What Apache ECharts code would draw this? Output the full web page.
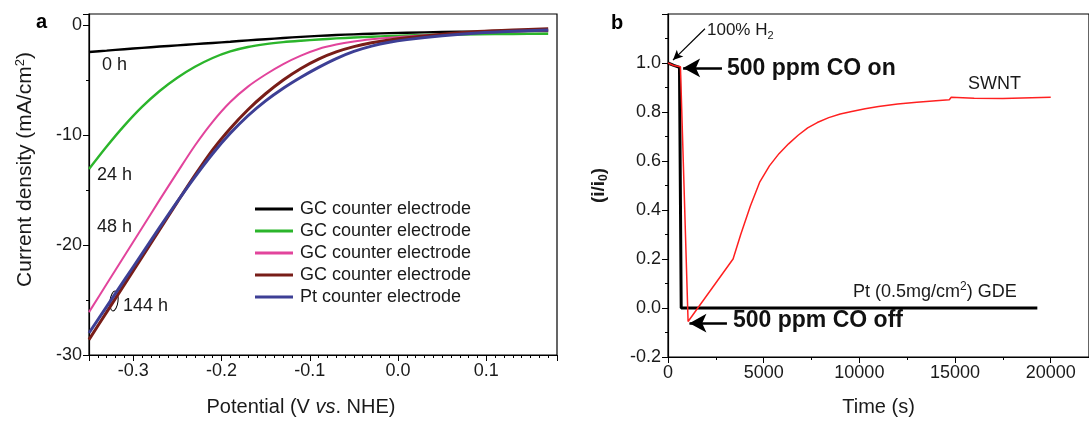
<!DOCTYPE html>
<html>
<head>
<meta charset="utf-8">
<title>CO tolerance</title>
<script src="https://cdn.jsdelivr.net/npm/echarts@6/dist/echarts.min.js"></script>
<style>
  html, body { margin: 0; padding: 0; background: #fff; }
  #main { width: 1089px; height: 422px; }
</style>
</head>
<body>
<div id="main"></div>
<script>
// panel a: polarisation curves
var potential = [-0.35, -0.33, -0.31, -0.29, -0.27, -0.25, -0.23, -0.21, -0.19, -0.17, -0.15, -0.13,
                 -0.11, -0.09, -0.07, -0.05, -0.03, -0.01, 0.01, 0.05, 0.09, 0.13, 0.17];
var gc0h   = [-2.45, -2.33, -2.2, -2.08, -1.96, -1.85, -1.74, -1.63, -1.52, -1.4, -1.29, -1.18,
              -1.08, -0.99, -0.91, -0.85, -0.79, -0.74, -0.7, -0.64, -0.6, -0.57, -0.55];
var gc24h  = [-13.1, -11.05, -9.15, -7.45, -6.0, -4.8, -3.8, -3.0, -2.4, -2.0, -1.74, -1.56,
              -1.43, -1.32, -1.22, -1.14, -1.07, -1.0, -0.95, -0.88, -0.84, -0.82, -0.8];
var gc48h  = [-26.1, -23.55, -21.0, -18.45, -15.9, -13.4, -10.95, -8.8, -7.0, -5.6, -4.5, -3.55,
              -2.78, -2.18, -1.78, -1.5, -1.3, -1.15, -1.04, -0.85, -0.7, -0.58, -0.5];
var gc144h = [-28.6, -26.1, -23.6, -21.1, -18.6, -16.1, -13.65, -11.35, -9.4, -7.7, -6.25, -5.0,
              -3.95, -3.1, -2.45, -1.97, -1.62, -1.36, -1.16, -0.85, -0.6, -0.45, -0.35];
var pt144h = [-28.0, -25.6, -23.2, -20.8, -18.4, -16.05, -13.8, -11.7, -9.85, -8.25, -6.9, -5.75,
              -4.75, -3.85, -3.05, -2.4, -1.92, -1.57, -1.33, -0.98, -0.72, -0.56, -0.46];
var seriesNames  = ['GC 0 h', 'GC 24 h', 'GC 48 h', 'GC 144 h', 'Pt 144 h'];
var legendLabels = ['GC counter electrode', 'GC counter electrode', 'GC counter electrode',
                    'GC counter electrode', 'Pt counter electrode'];
var colorsA = ['#000000', '#2bb52b', '#e2449c', '#781d18', '#3d3f95'];

// panel b: CO poisoning
var timePt  = [0, 300, 600, 680, 690, 3000, 10000, 19300];
var ptRatio = [1.0, 0.99, 0.982, 0.98, 0.0, 0.0, 0.0, 0.0];
var timeSwnt  = [0, 300, 650, 720, 1050, 3400, 3800, 4300, 4800, 5300, 5800, 6300, 6800, 7300,
                 7800, 8400, 9000, 9600, 10300, 11000, 12000, 13000, 14000, 14700, 14800,
                 16000, 17500, 19000, 20000];
var swntRatio = [1.0, 0.99, 0.985, 0.98, -0.055, 0.2, 0.3, 0.415, 0.515, 0.58, 0.63, 0.67, 0.705, 0.735,
                 0.757, 0.777, 0.792, 0.802, 0.813, 0.822, 0.833, 0.84, 0.846, 0.85, 0.86,
                 0.856, 0.855, 0.858, 0.86];

var FONT = '"Liberation Sans", Arial, sans-serif';
var TXT = '#1a1a1a';

function zip(xs, ys) {
  var out = [];
  for (var i = 0; i < xs.length; i++) out.push([xs[i], ys[i]]);
  return out;
}

var myChart = echarts.init(document.getElementById('main'));

var axisCommon = {
  axisLine: { show: true, onZero: false, lineStyle: { color: '#000', width: 1.2 } },
  axisTick: { show: true, inside: false, length: 6, lineStyle: { color: '#000', width: 1 } },
  minorTick: { show: true, length: 3, lineStyle: { color: '#000', width: 1 } },
  splitLine: { show: false },
  axisLabel: { color: TXT, fontSize: 18, fontFamily: FONT, margin: 7 },
  nameTextStyle: { color: TXT, fontSize: 20, fontFamily: FONT }
};
function ax(extra) {
  var o = JSON.parse(JSON.stringify(axisCommon));
  for (var k in extra) {
    if (typeof extra[k] === 'object' && o[k] && !Array.isArray(extra[k])) {
      for (var j in extra[k]) o[k][j] = extra[k][j];
    } else {
      o[k] = extra[k];
    }
  }
  return o;
}

var dataA = [gc0h, gc24h, gc48h, gc144h, pt144h];
var widthsA = [2.4, 2.4, 2, 3, 3];
var series = [];
for (var s = 0; s < dataA.length; s++) {
  series.push({
    name: seriesNames[s],
    type: 'line',
    xAxisIndex: 0, yAxisIndex: 0,
    data: zip(potential, dataA[s]),
    showSymbol: false,
    smooth: 0.3,
    z: s === 4 ? 3 : 2,
    lineStyle: { color: colorsA[s], width: widthsA[s] },
    itemStyle: { color: colorsA[s] }
  });
}
series.push({
  name: 'SWNT',
  type: 'line',
  xAxisIndex: 1, yAxisIndex: 1,
  data: zip(timeSwnt, swntRatio),
  showSymbol: false,
  z: 3,
  lineStyle: { color: '#ff2020', width: 1.5 }
});
series.push({
  name: 'Pt GDE',
  type: 'line',
  xAxisIndex: 1, yAxisIndex: 1,
  data: zip(timePt, ptRatio),
  showSymbol: false,
  z: 2,
  lineStyle: { color: '#000', width: 3 },
  markLine: {
    silent: true,
    animation: false,
    label: { show: false },
    lineStyle: { color: '#000', width: 2.5, type: 'solid' },
    data: [
      [{ coord: [1930, 1.14], symbol: 'none' },
       { coord: [260, 1.012], symbol: 'arrow', symbolSize: [7, 10], lineStyle: { width: 1.2 } }],
      [{ coord: [2820, 0.98], symbol: 'none' },
       { coord: [790, 0.98], symbol: 'arrow', symbolSize: [14, 17] }],
      [{ coord: [3080, -0.062], symbol: 'none' },
       { coord: [1120, -0.062], symbol: 'arrow', symbolSize: [14, 17] }]
    ]
  }
});

var option = {
  animation: false,
  backgroundColor: '#fff',
  textStyle: { fontFamily: FONT },
  grid: [
    { left: 89, top: 14, right: 532, bottom: 62, show: true, borderColor: '#000', borderWidth: 1.2, backgroundColor: 'transparent' },
    { left: 668, top: 14, right: -4, bottom: 62, show: true, borderColor: '#000', borderWidth: 1.2, backgroundColor: 'transparent' }
  ],
  legend: {
    data: seriesNames,
    formatter: function (name) { return legendLabels[seriesNames.indexOf(name)]; },
    orient: 'vertical',
    left: 250, top: 195,
    icon: 'rect',
    itemWidth: 38, itemHeight: 3,
    itemGap: 4,
    selectedMode: false,
    textStyle: { color: TXT, fontSize: 18, fontFamily: FONT, padding: [0, 0, 0, 2] }
  },
  xAxis: [
    ax({
      gridIndex: 0, type: 'value', min: -0.35, max: 0.18, splitNumber: 5,
      minorTick: { show: true, splitNumber: 10 },
      axisLabel: { showMinLabel: false, showMaxLabel: false, formatter: function (v) { return v.toFixed(1); } },
      name: '{n|Potential (V }{i|vs}{n|. NHE)}', nameLocation: 'middle', nameGap: 42,
      nameTextStyle: { padding: [0, 44, 0, 0],
                       rich: { n: { fontSize: 20, fontFamily: FONT, color: TXT },
                               i: { fontSize: 20, fontFamily: FONT, fontStyle: 'italic', color: TXT } } }
    }),
    ax({
      gridIndex: 1, type: 'value', min: 0, max: 22000, interval: 5000,
      minorTick: { show: true, splitNumber: 2 },
      axisLabel: { showMaxLabel: false, formatter: function (v) { return String(v); } },
      name: 'Time (s)', nameLocation: 'middle', nameGap: 40
    })
  ],
  yAxis: [
    ax({
      gridIndex: 0, type: 'value', min: -30, max: 1, interval: 10,
      minorTick: { show: true, splitNumber: 2 },
      axisLabel: { showMaxLabel: false },
      name: '{n|Current density (mA/cm}{s|2}{n|)}', nameLocation: 'middle', nameGap: 52, nameRotate: 90,
      nameTextStyle: { padding: [0, 0, 0, 30],
                       rich: { n: { fontSize: 21, fontFamily: FONT, color: TXT },
                               s: { fontSize: 13, fontFamily: FONT, color: TXT, padding: [0, 0, 10, 0] } } }
    }),
    ax({
      gridIndex: 1, type: 'value', min: -0.2, max: 1.2, interval: 0.2,
      minorTick: { show: true, splitNumber: 2 },
      axisLabel: { showMaxLabel: false, formatter: function (v) { return v.toFixed(1); } },
      name: '{n|(i/i}{s|0}{n|)}', nameLocation: 'middle', nameGap: 58, nameRotate: 90,
      nameTextStyle: { rich: { n: { fontSize: 19, fontWeight: 'bold', fontFamily: FONT, color: TXT },
                               s: { fontSize: 12, fontWeight: 'bold', fontFamily: FONT, color: TXT, padding: [10, 0, 0, 0] } } }
    })
  ],
  series: series,
  graphic: [
    { type: 'text', left: 36, top: 12, style: { text: 'a', font: 'bold 20px ' + FONT, fill: '#000' } },
    { type: 'text', left: 611, top: 13, style: { text: 'b', font: 'bold 20px ' + FONT, fill: '#000' } },
    { type: 'text', left: 102, top: 56, style: { text: '0 h', font: '18px ' + FONT, fill: TXT } },
    { type: 'text', left: 97, top: 166, style: { text: '24 h', font: '18px ' + FONT, fill: TXT } },
    { type: 'text', left: 97, top: 218, style: { text: '48 h', font: '18px ' + FONT, fill: TXT } },
    { type: 'text', left: 123, top: 297, style: { text: '144 h', font: '18px ' + FONT, fill: TXT } },
    { type: 'ellipse', shape: { cx: 114, cy: 301, rx: 4, ry: 10 }, rotation: -0.12, originX: 114, originY: 301,
      style: { stroke: '#000', fill: 'none', lineWidth: 1 } },
    { type: 'text', left: 707, top: 22, style: { text: '100% H{s|2}', font: '17px ' + FONT, fill: TXT,
      rich: { s: { fontSize: 11, fontFamily: FONT, padding: [11, 0, 0, 0] } } } },
    { type: 'text', left: 727, top: 57, style: { text: '500 ppm CO on', font: 'bold 23px ' + FONT, fill: '#111' } },
    { type: 'text', left: 733, top: 309, style: { text: '500 ppm CO off', font: 'bold 23px ' + FONT, fill: '#111' } },
    { type: 'text', left: 968, top: 75, style: { text: 'SWNT', font: '18px ' + FONT, fill: TXT } },
    { type: 'text', left: 853, top: 281, style: { text: 'Pt (0.5mg/cm{s|2}) GDE', font: '18px ' + FONT, fill: TXT,
      rich: { s: { fontSize: 12, fontFamily: FONT, padding: [0, 0, 10, 0] } } } }
  ]
};

myChart.setOption(option);
</script>
</body>
</html>
